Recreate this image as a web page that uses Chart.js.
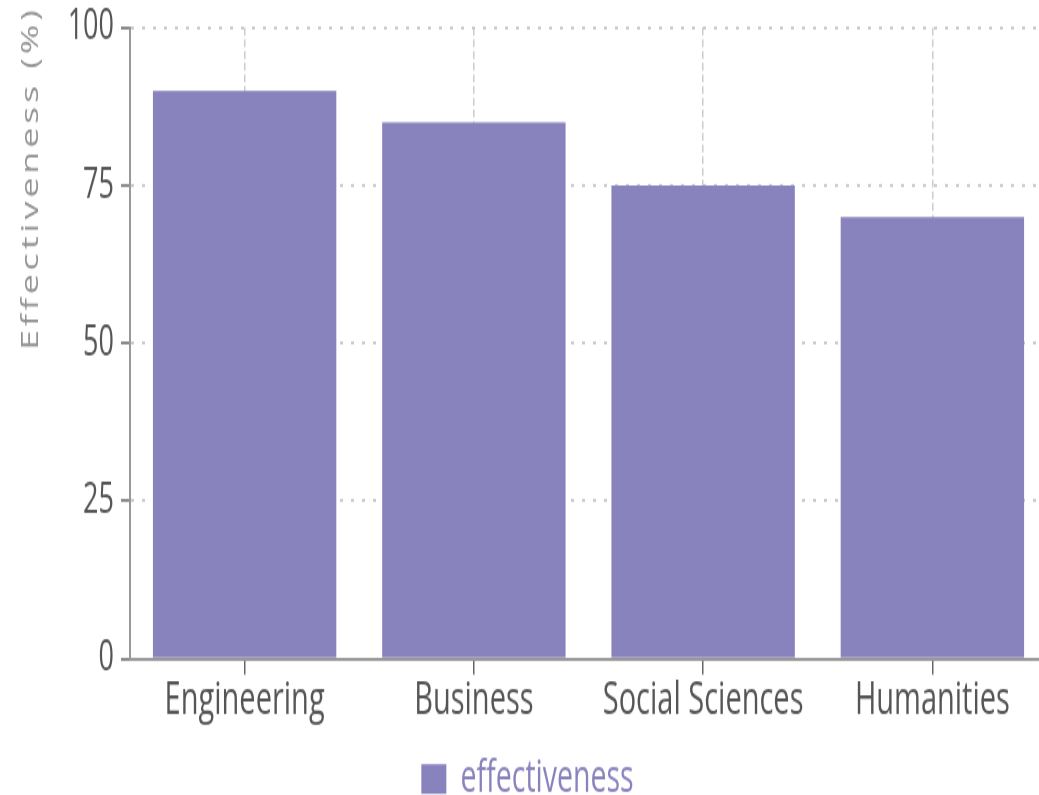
<!DOCTYPE html>
<html>
<head>
<meta charset="utf-8">
<script src="https://cdn.jsdelivr.net/npm/chart.js@4"></script>
<style>
  html, body { margin: 0; padding: 0; background: #fff; overflow: hidden; width: 1039px; height: 795px; }
  /* the reference is a chart stretched tall, so draw it flat and stretch it */
  #wrap { width: 1060px; height: 524px; transform: scaleY(1.5588); transform-origin: 0 0; }
</style>
</head>
<body>
<div id="wrap"><canvas id="chart"></canvas></div>
<script>
// data
const categories = ['Engineering', 'Business', 'Social Sciences', 'Humanities'];
const effectiveness = [90, 85, 75, 70];
const yMin = 0, yMax = 100, yStep = 25;

const barColor = '#8983bd';
const fontFamily = '"Open Sans", "Noto Sans", sans-serif';

// spaced-out y axis title, sitting high like the original
const spacedTitle = {
    id: 'spacedTitle',
    afterLayout(chart) {
        const s = chart.scales.y;
        if (s._spaced) return;
        const orig = s.drawTitle.bind(s);
        s.drawTitle = function () {
            const ctx = chart.ctx;
            ctx.save();
            ctx.letterSpacing = '2.5px';
            ctx.translate(0, -106);
            orig();
            ctx.restore();
        };
        s._spaced = true;
    }
};

new Chart(document.getElementById('chart').getContext('2d'), {
    type: 'bar',
    data: {
        labels: categories,
        datasets: [{
            label: 'effectiveness',
            data: effectiveness,
            backgroundColor: barColor,
            borderWidth: 0,
            barPercentage: 0.8,
            categoryPercentage: 1.0
        }]
    },
    options: {
        responsive: true,
        maintainAspectRatio: false,
        animation: false,
        layout: { padding: { top: 1, left: 8, right: 13, bottom: 0 } },
        plugins: {
            tooltip: { enabled: false },
            legend: {
                position: 'bottom',
                labels: {
                    color: barColor,
                    boxWidth: 25,
                    boxHeight: 19,
                    padding: 18,
                    font: { family: fontFamily, size: 28.5 }
                }
            }
        },
        scales: {
            x: {
                offset: true,
                grid: { offset: false, color: '#cccccc', lineWidth: 1.5, tickColor: '#666', tickLength: 10, tickWidth: 1.5 },
                border: { color: '#999', width: 2, dash: [5, 2.5] },
                ticks: { color: '#555', padding: 0, font: { family: fontFamily, size: 29 } }
            },
            y: {
                min: yMin,
                max: yMax,
                afterFit: s => { s.width = 122; },
                grid: { color: '#cccccc', lineWidth: 2, tickColor: '#666', tickLength: 9, tickWidth: 1.5 },
                border: { color: '#999', width: 2, dash: [3, 8] },
                ticks: { stepSize: yStep, color: '#555', padding: 7, font: { family: fontFamily, size: 27, lineHeight: 0.8 } },
                title: {
                    display: true,
                    text: 'Effectiveness (%)',
                    color: '#929292',
                    padding: { top: 10, bottom: 0 },
                    font: { family: fontFamily, size: 23 }
                }
            }
        }
    },
    plugins: [spacedTitle]
});
</script>
</body>
</html>
